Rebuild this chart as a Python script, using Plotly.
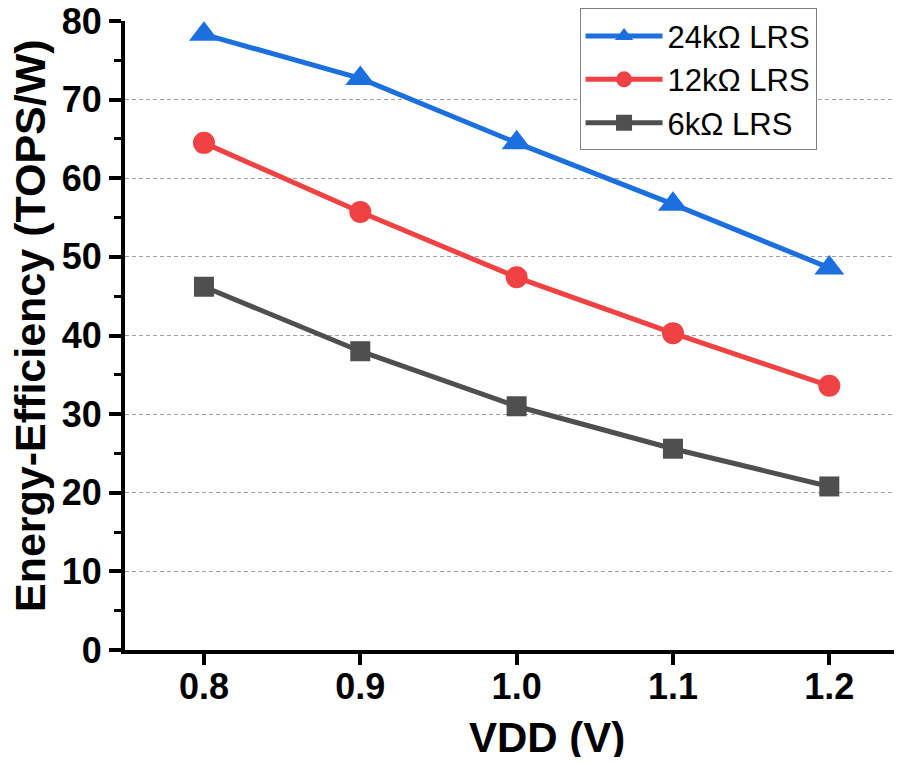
import plotly.graph_objects as go

vdd = [0.8, 0.9, 1.0, 1.1, 1.2]
lrs_24k = [78.3, 72.7, 64.5, 56.7, 48.6]
lrs_12k = [64.5, 55.7, 47.4, 40.3, 33.6]
lrs_6k = [46.2, 38.0, 31.0, 25.6, 20.8]
x_ticks = [0.8, 0.9, 1.0, 1.1, 1.2]
x_labels = ["0.8", "0.9", "1.0", "1.1", "1.2"]
y_ticks = [0, 10, 20, 30, 40, 50, 60, 70, 80]
y_labels = ["0", "10", "20", "30", "40", "50", "60", "70", "80"]
grid_vals = [10, 20, 30, 40, 50, 60, 70]
x_title = "VDD (V)"
y_title = "Energy-Efficiency (TOPS/W)"

FONT = "Liberation Sans, Arial, sans-serif"

fig = go.Figure()
series = [
    ("24kΩ LRS", lrs_24k, "#1c6fdf", "triangle-up", 26),
    ("12kΩ LRS", lrs_12k, "#f04242", "circle", 22),
    ("6kΩ LRS", lrs_6k, "#4f4f4f", "square", 20),
]
for name, ys, color, sym, sz in series:
    fig.add_trace(go.Scatter(
        x=vdd, y=ys, name=name, mode="lines+markers",
        line=dict(color=color, width=5),
        marker=dict(symbol=sym, size=sz, color=color, line=dict(width=0)),
    ))

# invisible trace for grid axis
fig.add_trace(go.Scatter(x=[vdd[0]], y=[grid_vals[0]], yaxis="y2", mode="markers",
                         marker=dict(opacity=0), showlegend=False, hoverinfo="skip"))

fig.update_layout(
    width=894, height=749,
    margin=dict(l=117, r=0, t=10, b=107),
    paper_bgcolor="white", plot_bgcolor="white",
    font=dict(family=FONT, color="black"),
    showlegend=True,
    legend=dict(
        x=0.585, y=1.02, xanchor="left", yanchor="top",
        bgcolor="white", bordercolor="#808080", borderwidth=1,
        font=dict(family=FONT, size=31, color="black"),
        itemwidth=77, tracegroupgap=0,
    ),
    xaxis=dict(
        range=[0.7495, 1.2465], tickvals=x_ticks, ticktext=x_labels,
        showline=True, linecolor="black", linewidth=4,
        ticks="outside", ticklen=11, tickwidth=4, tickcolor="black",
        tickfont=dict(family=FONT, size=36, color="black", weight="bold"),
        ticklabelstandoff=-9, ticklabeloverflow="allow",
        showgrid=False, zeroline=False, automargin=False,
    ),
    yaxis=dict(
        range=[0, 80.0001], tickvals=y_ticks, ticktext=y_labels,
        showline=True, linecolor="black", linewidth=4,
        ticks="outside", ticklen=12, tickwidth=4, tickcolor="black",
        minor=dict(dtick=5, tick0=0, ticks="outside", ticklen=7, tickwidth=3, tickcolor="black", showgrid=False),
        tickfont=dict(family=FONT, size=36, color="black", weight="bold"),
        ticklabeloverflow="allow",
        showgrid=False, zeroline=False, automargin=False,
    ),
    yaxis2=dict(
        range=[0, 80.0001], overlaying="y", side="left", tickvals=grid_vals,
        showticklabels=False, ticks="", showline=False, zeroline=False,
        showgrid=True, gridcolor="#a0a0a0", gridwidth=1, griddash="4px,3px",
    ),
    annotations=[
        dict(text="<b>" + x_title + "</b>", xref="paper", yref="paper",
             x=0.5425, y=-0.139, xanchor="center", yanchor="middle", showarrow=False,
             font=dict(family=FONT, size=42, color="black")),
        dict(text="<b>" + y_title + "</b>", xref="paper", yref="paper", textangle=-90,
             x=-0.1223, y=0.5166, xanchor="center", yanchor="middle", showarrow=False,
             font=dict(family=FONT, size=43, color="black")),
    ],
)

fig.write_html("out.html")
